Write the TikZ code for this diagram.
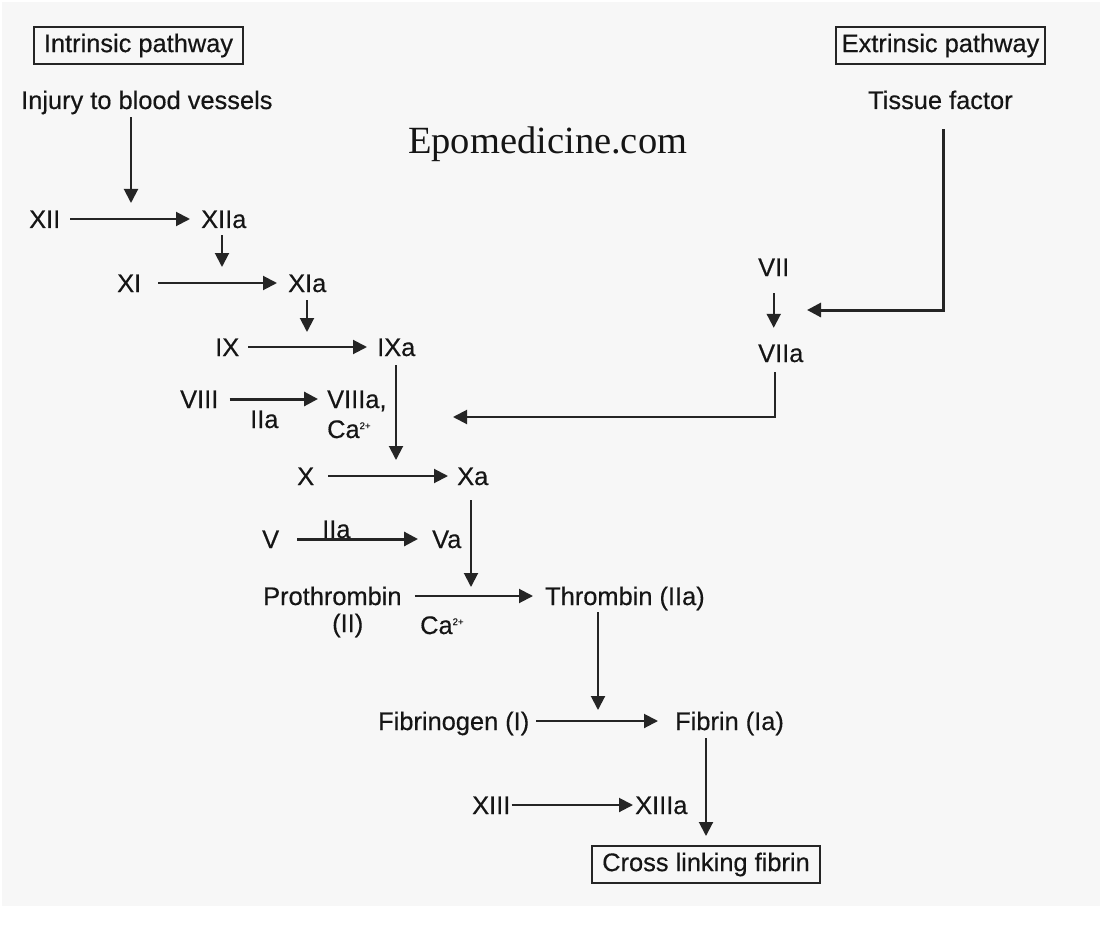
\documentclass[tikz,border=0pt]{standalone}
\usepackage{fontspec}
\setmainfont{Liberation Sans}[FakeBold=0.4]
\newfontfamily\serifx{Liberation Serif}
\usetikzlibrary{arrows.meta}
\definecolor{bg}{HTML}{F7F7F7}
\definecolor{txt}{HTML}{151515}
\definecolor{ln}{HTML}{252525}
\newcommand\chargesup[1]{\raisebox{9pt}{\fontsize{9.5}{9.5}\selectfont #1}}
\begin{document}
\begin{tikzpicture}[x=1pt,y=-1pt,
  lbl/.style={font=\fontsize{25.4}{30}\selectfont, inner sep=0pt, text height=18pt, text depth=0pt, anchor=base west, text=txt},
  boxed/.style={font=\fontsize{25.4}{30}\selectfont, inner sep=0pt, draw=ln, line width=2pt, text=txt, minimum width=209pt, minimum height=37pt},
  arr/.style={draw=ln, line width=2pt, -{Triangle[length=14pt,width=14pt]}},
  thickarr/.style={draw=ln, line width=3pt, -{Triangle[length=14pt,width=14pt]}}]
\useasboundingbox (0,0) rectangle (1100,928);
\fill[white] (0,0) rectangle (1100,928);
\fill[bg] (2,2) rectangle (1100,906);

% boxes
\node[boxed] (intr) at (138.5,45.5) {Intrinsic pathway};
\node[boxed] (extr) at (940.5,45.5) {Extrinsic pathway};
\node[boxed, minimum width=228pt] (cross) at (706,864.5) {Cross linking fibrin};

% watermark
\node[font=\serifx\fontsize{38.5}{44}\selectfont, inner sep=0pt, anchor=base west, text=txt] (epo) at (408,154) {Epomedicine.com};

% labels
\node[lbl] (inj) at (21,109) {Injury to blood vessels};
\node[lbl] (tf) at (868,109) {Tissue factor};
\node[lbl] (xii) at (29,228) {XII};
\node[lbl] (xiia) at (201,228) {XIIa};
\node[lbl] (xi) at (117,292) {XI};
\node[lbl] (xia) at (288,292) {XIa};
\node[lbl] (ix) at (215,356) {IX};
\node[lbl] (ixa) at (377,356) {IXa};
\node[lbl] (viii) at (180,408) {VIII};
\node[lbl] (viiia) at (327,408) {VIIIa,};
\node[lbl] (iia1) at (250,428) {IIa};
\node[lbl] (ca1) at (327,438) {Ca\chargesup{2+}};
\node[lbl] (vii) at (758,276) {VII};
\node[lbl] (viia) at (758,362) {VIIa};
\node[lbl] (x) at (297,485) {X};
\node[lbl] (xa) at (457,485) {Xa};
\node[lbl] (v) at (262,548) {V};
\node[lbl] (va) at (432,548) {Va};
\node[lbl] (iia2) at (322,538) {IIa};
\node[lbl] (pro) at (263,605) {Prothrombin};
\node[lbl] (pii) at (332,632) {(II)};
\node[lbl] (ca2) at (420,634) {Ca\chargesup{2+}};
\node[lbl] (thr) at (545,605) {Thrombin (IIa)};
\node[lbl] (fbg) at (378,730) {Fibrinogen (I)};
\node[lbl] (fbn) at (675,730) {Fibrin (Ia)};
\node[lbl] (xiii) at (472,814) {XIII};
\node[lbl] (xiiia) at (635,814) {XIIIa};

% free ends of connectors
\coordinate (c1) at (131,203);
\coordinate (c2) at (222,267);
\coordinate (c3) at (307,332);
\coordinate (c4) at (396,460);
\coordinate (c6k) at (943,310);
\coordinate (c6) at (807,310);
\coordinate (c7k) at (775,417);
\coordinate (c7) at (453,417);
\coordinate (c8) at (471,587);
\coordinate (c9) at (598,710);

% intrinsic chain
\draw[arr, shorten <=8pt] (inj.south -| c1) -- (c1);
\draw[arr, shorten <=10pt, shorten >=11pt] (xii) -- (xiia);
\draw[arr, shorten <=7pt] (xiia.south -| c2) -- (c2);
\draw[arr, shorten <=17pt, shorten >=11pt] (xi) -- (xia);
\draw[arr, shorten <=8pt] (xia.south -| c3) -- (c3);
\draw[arr, shorten <=9pt, shorten >=10pt] (ix) -- (ixa);
\draw[arr, shorten <=9pt] (ixa.south -| c4) -- (c4);
\draw[thickarr, shorten <=11pt, shorten >=9pt] (viii) -- (viiia);

% extrinsic chain
\draw[arr, shorten <=17pt, shorten >=16pt] (vii.south) -- (vii.south |- viia.north);
\draw[thickarr, shorten <=20pt] (tf.south -| c6k) -- (c6k) -- (c6);
\draw[arr, shorten <=10pt] (viia.south -| c7k) -- (c7k) -- (c7);

% common pathway
\draw[arr, shorten <=14pt, shorten >=9pt] (x) -- (xa);
\draw[arr, shorten <=15pt] (xa.south -| c8) -- (c8);
\draw[thickarr, shorten <=18pt, shorten >=14pt] (v) -- (va);
\draw[arr, shorten <=13pt, shorten >=12pt] (pro) -- (thr);
\draw[arr, shorten <=7pt] (thr.south -| c9) -- (c9);
\draw[arr, shorten <=7pt, shorten >=17pt] (fbg) -- (fbn);
\draw[arr, shorten <=8pt, shorten >=9pt] (cross.north |- fbn.south) -- (cross.north);
\draw[arr, shorten <=1pt, shorten >=2pt] (xiii) -- (xiiia);
\end{tikzpicture}
\end{document}
